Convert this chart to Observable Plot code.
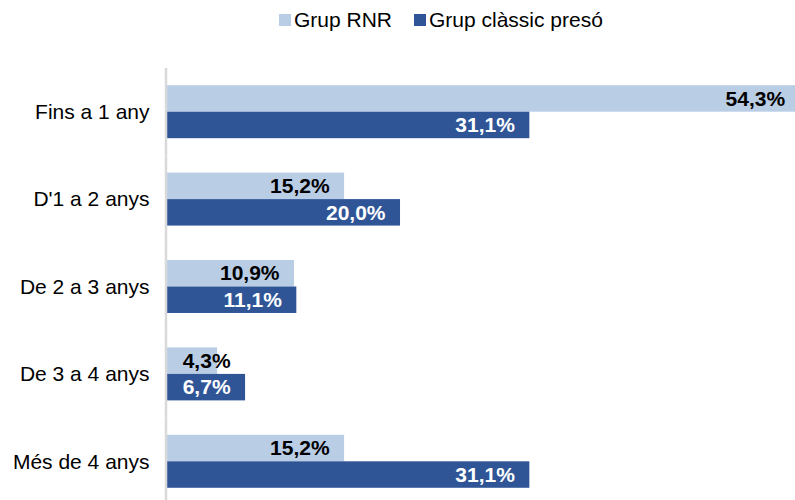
<!DOCTYPE html>
<html>
<head>
<meta charset="utf-8">
<script src="https://cdn.jsdelivr.net/npm/d3@7"></script>
<script src="https://cdn.jsdelivr.net/npm/@observablehq/plot@0.6"></script>
<style>
  html, body { margin: 0; padding: 0; background: #fff; overflow: hidden; }
  body { width: 795px; height: 500px; font-family: "Liberation Sans", Arial, sans-serif; }
  #legend { height: 40px; position: relative; font-size: 21px; color: #000; }
  .item { position: absolute; top: 8px; display: flex; align-items: center; }
  .sw { width: 12px; height: 12px; margin-right: 3px; display: inline-block; }
  #chart svg { display: block; }
</style>
</head>
<body>
<div id="legend"></div>
<div id="chart"></div>
<script>
const categories = ["Fins a 1 any", "D'1 a 2 anys", "De 2 a 3 anys", "De 3 a 4 anys", "Més de 4 anys"];
const series = ["Grup RNR", "Grup clàssic presó"];
const rnrValues = [54.3, 15.2, 10.9, 4.3, 15.2];
const classicValues = [31.1, 20.0, 11.1, 6.7, 31.1];
const colors = ["#B9CDE5", "#2F5597"];
const labelColors = ["#000000", "#FFFFFF"];

const data = [];
categories.forEach((c, i) => {
  data.push({category: c, group: series[0], value: rnrValues[i]});
  data.push({category: c, group: series[1], value: classicValues[i]});
});
const fmt = v => v.toFixed(1).replace(".", ",") + "%";
const minLabelValue = 6.7;

// legend
const legend = document.getElementById("legend");
const legendX = [279, 414];
series.forEach((s, i) => {
  const it = document.createElement("div");
  it.className = "item";
  it.style.left = legendX[i] + "px";
  it.innerHTML = `<span class="sw" style="background:${colors[i]}"></span><span>${s}</span>`;
  legend.appendChild(it);
});

const chart = Plot.plot({
  width: 795,
  height: 465,
  marginTop: 28,
  marginBottom: 0,
  marginLeft: 167,
  marginRight: 0,
  style: {fontFamily: "Liberation Sans, Arial, sans-serif", fontSize: "21px", overflow: "visible"},
  x: {domain: [0, 53.9], axis: null},
  y: {domain: series, paddingInner: 0, paddingOuter: 0.65, round: false, axis: null},
  fy: {domain: categories, padding: 0, round: false, label: null, tickSize: 0, tickPadding: 18},
  color: {domain: series, range: colors},
  marks: [
    Plot.barX(data, {fy: "category", y: "group", x: "value", fill: "group", insetTop: 0, insetBottom: 0}),
    Plot.ruleX([0], {stroke: "#D9D9D9", strokeWidth: 2.5, dx: -1.5}),
    Plot.text(data, {
      fy: "category", y: "group",
      x: d => Math.max(d.value, minLabelValue),
      text: d => fmt(d.value),
      textAnchor: "end", dx: -15,
      fill: d => labelColors[series.indexOf(d.group)],
      fontWeight: "bold", fontSize: 21
    })
  ]
});
document.getElementById("chart").appendChild(chart);
</script>
</body>
</html>
